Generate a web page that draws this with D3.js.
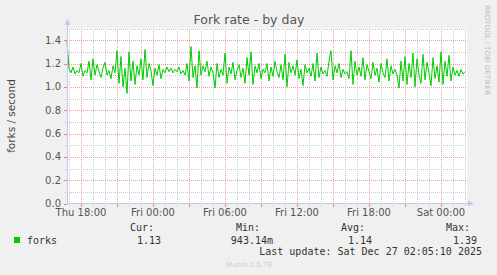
<!DOCTYPE html>
<html>
<head>
<meta charset="utf-8">
<script src="https://cdn.jsdelivr.net/npm/d3@7"></script>
<style>
  body { margin: 0; background: #f0f0f0; }
  svg { display: block; }
  text { font-family: "DejaVu Sans", sans-serif; }
  .mono { font-family: "DejaVu Sans Mono", monospace; font-size: 10px; fill: #333; }
</style>
</head>
<body>
<script>
// fork rate, one sample every 10 minutes
var startTime = Date.UTC(2025, 11, 25, 16, 50);
var endTime = Date.UTC(2025, 11, 27, 2, 10);
var stepMinutes = 10;

var forks = [
  1.39, 1.16, 1.12, 1.17, 1.11, 1.14, 1.12, 1.2, 1.09, 1.14, 1.12, 1.22, 1.06, 1.24, 1.1, 1.19, 1.13,
  1.08, 1.16, 1.21, 1.1, 1.14, 1.07, 1.18, 1.12, 1.31, 1.03, 1.26, 1.0, 1.16, 0.943, 1.3, 1.05,
  1.22, 1.02, 1.18, 1.1, 1.24, 1.06, 1.32, 1.08, 1.2, 1.14, 1.01, 1.16, 1.1, 1.19, 1.07, 1.15, 1.12,
  1.17, 1.13, 1.16, 1.12, 1.15, 1.13, 1.17, 1.11, 1.14, 1.1, 1.2, 1.05, 1.345, 1.08, 1.18, 0.99,
  1.31, 1.1, 1.18, 1.13, 1.22, 1.09, 1.17, 1.12, 0.99, 1.2, 1.08, 1.15, 1.1, 1.29, 1.03, 1.17, 1.11,
  1.21, 1.06, 1.14, 1.19, 1.08, 1.16, 1.03, 1.25, 1.1, 1.3, 1.02, 1.18, 1.12, 1.2, 1.07, 1.15,
  1.12, 1.2, 1.05, 1.17, 1.09, 1.22, 1.13, 1.08, 1.19, 1.06, 1.28, 1.0, 1.21, 1.12, 1.18, 1.1, 1.23,
  1.07, 1.15, 1.01, 1.19, 1.12, 1.16, 1.09, 1.2, 1.05, 1.29, 1.08, 1.17, 1.11, 1.14, 1.09, 1.22,
  1.31, 1.06, 1.18, 1.12, 1.2, 1.08, 1.15, 1.11, 1.13, 1.07, 1.31, 1.02, 1.22, 1.1, 1.17, 1.09, 1.25,
  1.06, 1.19, 1.13, 1.07, 1.21, 1.1, 1.16, 1.04, 1.2, 1.12, 1.08, 1.24, 1.05, 1.18, 1.11, 1.15,
  1.1, 0.99, 1.22, 1.05, 1.26, 1.02, 1.2, 1.08, 1.29, 1.0, 1.24, 1.1, 1.03, 1.28, 1.06, 1.21, 1.12,
  1.01, 1.25, 1.07, 1.18, 1.04, 1.3, 1.02, 1.22, 1.09, 1.27, 1.05, 1.17, 1.1, 1.14, 1.09, 1.15, 1.11, 1.13
];

var yTicks = [0, 0.2, 0.4, 0.6, 0.8, 1.0, 1.2, 1.4];
var yMinor = [0.1, 0.3, 0.5, 0.7, 0.9, 1.1, 1.3, 1.5];

var legendLabels = ["Cur:", "Min:", "Avg:", "Max:"];
var legendValues = ["1.13", "943.14m", "1.14", "1.39"];
var lastUpdate = "Last update: Sat Dec 27 02:05:10 2025";

var W = 497, H = 275;
var plotLeft = 67, plotRight = 467, plotTop = 28.5, plotBottom = 203.5;

var svg = d3.select("body").append("svg")
    .attr("width", W)
    .attr("height", H);

svg.append("rect").attr("width", W).attr("height", H).attr("fill", "#f0f0f0");
svg.append("rect")
    .attr("x", plotLeft).attr("y", plotTop)
    .attr("width", plotRight - plotLeft).attr("height", plotBottom - plotTop)
    .attr("fill", "#fff");

var x = d3.scaleUtc()
    .domain([startTime, endTime])
    .range([plotLeft, plotRight]);

var y = d3.scaleLinear()
    .domain([0, 1.5])
    .range([plotBottom, plotTop]);

var hourTicks = x.ticks(d3.utcHour.every(1));
var majorX = hourTicks.filter(function(d) { return d.getUTCHours() % 3 == 0; });
var minorX = hourTicks.filter(function(d) { return d.getUTCHours() % 3 != 0; });
var labelX = hourTicks.filter(function(d) { return d.getUTCHours() % 6 == 0; });

var grid = svg.append("g").attr("shape-rendering", "crispEdges");

// minor grid
grid.selectAll(".vminor").data(minorX).enter().append("line")
    .attr("x1", function(d) { return Math.round(x(d)) + 0.5; })
    .attr("x2", function(d) { return Math.round(x(d)) + 0.5; })
    .attr("y1", plotTop).attr("y2", plotBottom + 2)
    .attr("stroke", "#c8c8c8").attr("stroke-dasharray", "1,1");
grid.selectAll(".hminor").data(yMinor).enter().append("line")
    .attr("x1", plotLeft - 2).attr("x2", plotRight)
    .attr("y1", function(d) { return Math.round(y(d)) + 0.5; })
    .attr("y2", function(d) { return Math.round(y(d)) + 0.5; })
    .attr("stroke", "#c8c8c8").attr("stroke-dasharray", "1,1");

// major grid
grid.selectAll(".vmajor").data(majorX).enter().append("line")
    .attr("x1", function(d) { return Math.round(x(d)) + 0.5; })
    .attr("x2", function(d) { return Math.round(x(d)) + 0.5; })
    .attr("y1", plotTop).attr("y2", plotBottom)
    .attr("stroke", "#eaa0a0").attr("stroke-dasharray", "1,1");
grid.selectAll(".vtick").data(majorX).enter().append("line")
    .attr("x1", function(d) { return Math.round(x(d)) + 0.5; })
    .attr("x2", function(d) { return Math.round(x(d)) + 0.5; })
    .attr("y1", plotBottom).attr("y2", plotBottom + 3)
    .attr("stroke", "#e88080");
grid.selectAll(".hmajor").data(yTicks.slice(1)).enter().append("line")
    .attr("x1", plotLeft).attr("x2", plotRight)
    .attr("y1", function(d) { return Math.round(y(d)) + 0.5; })
    .attr("y2", function(d) { return Math.round(y(d)) + 0.5; })
    .attr("stroke", "#eaa0a0").attr("stroke-dasharray", "1,1");
grid.selectAll(".htick").data(yTicks).enter().append("line")
    .attr("x1", plotLeft - 3).attr("x2", plotLeft)
    .attr("y1", function(d) { return Math.round(y(d)) + 0.5; })
    .attr("y2", function(d) { return Math.round(y(d)) + 0.5; })
    .attr("stroke", "#e88080");

// y labels
svg.selectAll(".ylab").data(yTicks).enter().append("text")
    .attr("x", 61).attr("y", function(d) { return y(d) + 3.5; })
    .attr("text-anchor", "end")
    .attr("font-size", 10).attr("fill", "#555")
    .text(function(d) { return d.toFixed(1); });

// x labels
var fmt = d3.utcFormat("%a %H:%M");
svg.selectAll(".xlab").data(labelX).enter().append("text")
    .attr("x", function(d) { return x(d); }).attr("y", 216)
    .attr("text-anchor", "middle")
    .attr("font-size", 10).attr("fill", "#555")
    .text(function(d) { return fmt(d); });

// data line
var line = d3.line()
    .x(function(d, i) { return x(startTime + i * stepMinutes * 60000); })
    .y(function(d) { return y(d); });
svg.append("path")
    .datum(forks)
    .attr("d", line)
    .attr("fill", "none")
    .attr("stroke", "#00cc00")
    .attr("stroke-width", 1);

// axes with arrows
var axisColor = "#c4c4f0";
svg.append("line").attr("x1", plotLeft + 0.5).attr("x2", plotLeft + 0.5)
    .attr("y1", 22).attr("y2", plotBottom)
    .attr("stroke", axisColor).attr("shape-rendering", "crispEdges");
svg.append("path").attr("d", "M64.5,25 L67.5,19 L70.5,25 Z").attr("fill", axisColor);
svg.append("line").attr("x1", plotLeft).attr("x2", 470)
    .attr("y1", plotBottom).attr("y2", plotBottom)
    .attr("stroke", axisColor).attr("shape-rendering", "crispEdges");
svg.append("path").attr("d", "M468,200.5 L474,203.5 L468,206.5 Z").attr("fill", axisColor);

// titles
svg.append("text").attr("x", 249).attr("y", 24)
    .attr("text-anchor", "middle").attr("font-size", 12.5).attr("fill", "#555")
    .text("Fork rate - by day");
svg.append("text")
    .attr("transform", "translate(15,116) rotate(-90)")
    .attr("text-anchor", "middle").attr("font-size", 10.5).attr("fill", "#444")
    .text("forks / second");
svg.append("text")
    .attr("transform", "translate(485,5) rotate(90)")
    .attr("font-size", 7).attr("fill", "#bbb")
    .text("RRDTOOL / TOBI OETIKER");

// legend
svg.append("rect").attr("x", 14).attr("y", 237).attr("width", 6).attr("height", 6)
    .attr("fill", "#00cc00");
svg.append("text").attr("class", "mono").attr("x", 27).attr("y", 243.5).text("forks");

var labelEnds = [154, 260, 365, 470];
var valueEnds = [161, 273, 372, 477];
svg.selectAll(".leglab").data(legendLabels).enter().append("text")
    .attr("class", "mono").attr("text-anchor", "end")
    .attr("x", function(d, i) { return labelEnds[i]; }).attr("y", 231)
    .text(function(d) { return d; });
svg.selectAll(".legval").data(legendValues).enter().append("text")
    .attr("class", "mono").attr("text-anchor", "end")
    .attr("x", function(d, i) { return valueEnds[i]; }).attr("y", 243.5)
    .text(function(d) { return d; });
svg.append("text").attr("class", "mono").attr("text-anchor", "end")
    .attr("x", 482).attr("y", 255).text(lastUpdate);

svg.append("text").attr("x", 249).attr("y", 267)
    .attr("text-anchor", "middle").attr("font-size", 7).attr("fill", "#ccc")
    .text("Munin 2.0.76");
</script>
</body>
</html>
